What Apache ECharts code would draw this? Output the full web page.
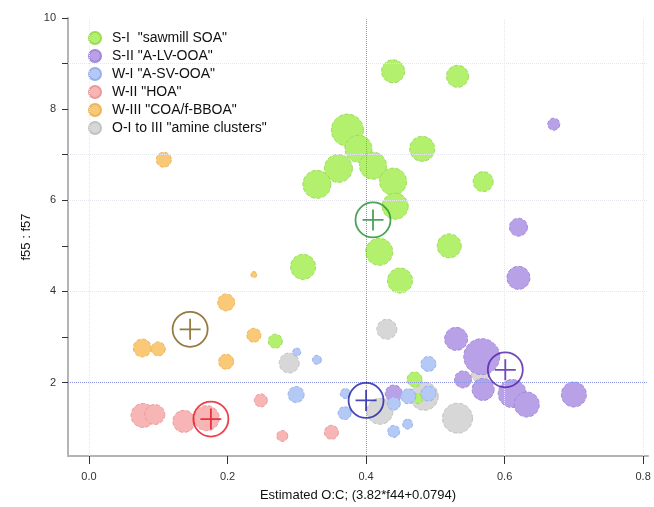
<html>
<head>
    <meta charset="utf-8">
    <title>f55:f57 vs O:C</title>
    <script src="https://cdn.jsdelivr.net/npm/echarts@6/dist/echarts.min.js"></script>
    <style>
        html, body { margin: 0; padding: 0; width: 654px; height: 507px; background: #fff; }
        #main { width: 654px; height: 507px; }
    </style>
</head>
<body>
<div id="main"></div>
<script type="text/javascript">
    // data: [O:C, f55:f57, bubble weight]
    var sawmillSOA = [
        [0.439, 8.83, 23], [0.532, 8.72, 22], [0.373, 7.54, 32], [0.389, 7.13, 27],
        [0.481, 7.13, 25], [0.360, 6.70, 28], [0.410, 6.76, 27], [0.439, 6.41, 27],
        [0.329, 6.35, 28], [0.569, 6.41, 20], [0.442, 5.87, 26], [0.419, 4.87, 27],
        [0.520, 5.00, 24], [0.309, 4.54, 25], [0.449, 4.24, 25], [0.470, 2.07, 15],
        [0.475, 1.65, 10], [0.269, 2.91, 14]
    ];
    var alvOOA = [
        [0.671, 7.67, 12], [0.620, 5.41, 18], [0.620, 4.30, 23], [0.530, 2.96, 23],
        [0.567, 2.57, 36], [0.540, 2.07, 17], [0.569, 1.85, 22], [0.611, 1.76, 28],
        [0.632, 1.52, 25], [0.700, 1.74, 25], [0.440, 1.76, 17]
    ];
    var asvOOA = [
        [0.490, 2.41, 15], [0.370, 1.76, 10], [0.369, 1.33, 13], [0.440, 1.54, 13],
        [0.461, 1.70, 15], [0.490, 1.76, 15], [0.440, 0.93, 12], [0.460, 1.09, 10],
        [0.300, 2.67, 8], [0.329, 2.50, 9], [0.299, 1.74, 16]
    ];
    var hoa = [
        [0.078, 1.28, 24], [0.095, 1.30, 20], [0.137, 1.15, 22], [0.170, 1.22, 25],
        [0.248, 1.61, 13], [0.279, 0.83, 11], [0.350, 0.91, 14]
    ];
    var coaBBOA = [
        [0.108, 6.89, 15], [0.238, 4.37, 6], [0.198, 3.76, 17], [0.238, 3.04, 14],
        [0.077, 2.76, 18], [0.100, 2.74, 14], [0.198, 2.46, 15]
    ];
    var amine = [
        [0.430, 3.17, 20], [0.289, 2.43, 20], [0.420, 1.37, 26], [0.484, 1.70, 28],
        [0.532, 1.22, 30], [0.565, 2.20, 18]
    ];
    // group centres: S-I, S-II, W-I, W-II, W-III
    var centroids = [[0.410, 5.57], [0.601, 2.28], [0.400, 1.61], [0.176, 1.20], [0.146, 3.17]];

    var seriesNames = ['S-I  "sawmill SOA"', 'S-II "A-LV-OOA"', 'W-I "A-SV-OOA"',
                       'W-II "HOA"', 'W-III "COA/f-BBOA"', 'O-I to III "amine clusters"'];
    var xTicks = [0, 0.2, 0.4, 0.6, 0.8];
    var yTicks = [2, 4, 6, 8, 10];
    var yMinorTicks = [2, 3, 4, 5, 6, 7, 8, 9, 10];
    var refX = [0.4];
    var refY = [2];
    var gridX = [0.0, 0.6, 0.8];
    var gridY = [4, 6, 7, 9];

    var fills = ['#b3f06e', '#b9a1e8', '#b5c9f6', '#f7b5b5', '#f9c977', '#d7d7d7'];
    var edges = ['#9bdc55', '#a288d8', '#97b0ec', '#eb9a9a', '#eeb458', '#c2c2c2'];
    var centroidColors = ['#1e8c2e', '#4e1ca6', '#1a1aa8', '#e8101e', '#7b5a12'];

    var myChart = echarts.init(document.getElementById('main'));

    function bubbles(name, data, i, z) {
        return {
            name: name,
            type: 'scatter',
            data: data,
            z: z,
            symbol: 'circle',
            symbolSize: function (v) { return v[2]; },
            itemStyle: {
                color: fills[i],
                borderColor: edges[i],
                borderWidth: 1,
                borderType: 'dashed',
                opacity: 1
            },
            emphasis: { disabled: true }
        };
    }

    var centroidSymbol = 'path://M10,0 A10,10 0 1,1 10,20 A10,10 0 1,1 10,0 Z M4,10 L16,10 M10,4 L10,16';

    var option = {
        animation: false,
        textStyle: { fontFamily: 'Liberation Sans, Arial, sans-serif' },
        legend: {
            orient: 'vertical',
            left: 83,
            top: 26,
            itemWidth: 12,
            itemHeight: 12,
            itemGap: 4,
            icon: 'circle',
            data: seriesNames,
            textStyle: { fontSize: 14, color: '#111', padding: [0, 0, 0, 6] }
        },
        grid: { left: 68, right: 6, top: 18, bottom: 48 },
        xAxis: {
            type: 'value',
            min: -0.0303,
            max: 0.807,
            name: 'Estimated O:C; (3.82*f44+0.0794)',
            nameLocation: 'middle',
            nameGap: 33,
            nameTextStyle: { fontSize: 13, color: '#111' },
            axisLine: { show: true, onZero: false, lineStyle: { color: '#b4b4b4', width: 2 } },
            axisTick: { show: true, customValues: xTicks, length: 8, inside: false, lineStyle: { color: '#333' } },
            axisLabel: {
                customValues: xTicks,
                margin: 15,
                fontSize: 11,
                color: '#333',
                formatter: function (v) { return v.toFixed(1); }
            },
            splitLine: { show: false }
        },
        yAxis: {
            type: 'value',
            min: 0.39,
            max: 10,
            name: 'f55 : f57',
            nameLocation: 'middle',
            nameGap: 33,
            nameRotate: 90,
            nameTextStyle: { fontSize: 13, color: '#111' },
            axisLine: { show: true, onZero: false, lineStyle: { color: '#b4b4b4', width: 2 } },
            axisTick: { show: true, customValues: yMinorTicks, length: 6, lineStyle: { color: '#333' } },
            axisLabel: { customValues: yTicks, margin: 12, fontSize: 11, color: '#333' },
            splitLine: { show: false }
        },
        series: [
            bubbles(seriesNames[5], amine, 5, 2),
            bubbles(seriesNames[0], sawmillSOA, 0, 3),
            bubbles(seriesNames[1], alvOOA, 1, 3),
            bubbles(seriesNames[2], asvOOA, 2, 3),
            bubbles(seriesNames[3], hoa, 3, 3),
            bubbles(seriesNames[4], coaBBOA, 4, 3),
            {
                name: 'gridlines',
                type: 'scatter',
                data: [],
                z: 1,
                markLine: {
                    silent: true,
                    symbol: 'none',
                    label: { show: false },
                    lineStyle: { color: '#e6e6ee', type: 'dotted', width: 1 },
                    data: gridX.map(function (v) { return { xAxis: v }; })
                        .concat(gridY.map(function (v) { return { yAxis: v }; }))
                }
            },
            {
                name: 'reference',
                type: 'scatter',
                data: [],
                z: 1,
                markLine: {
                    silent: true,
                    symbol: 'none',
                    label: { show: false },
                    lineStyle: { color: '#8c93e0', type: 'dotted', width: 1 },
                    data: refX.map(function (v) { return { xAxis: v }; })
                        .concat(refY.map(function (v) { return { yAxis: v }; }))
                }
            },
            {
                name: 'centroids',
                type: 'scatter',
                z: 5,
                symbol: centroidSymbol,
                symbolSize: 35,
                emphasis: { disabled: true },
                data: centroids.map(function (c, i) {
                    return {
                        value: c,
                        itemStyle: { color: 'rgba(0,0,0,0)', borderColor: centroidColors[i], borderWidth: 1.8 }
                    };
                })
            }
        ]
    };
    myChart.setOption(option);
</script>
</body>
</html>
